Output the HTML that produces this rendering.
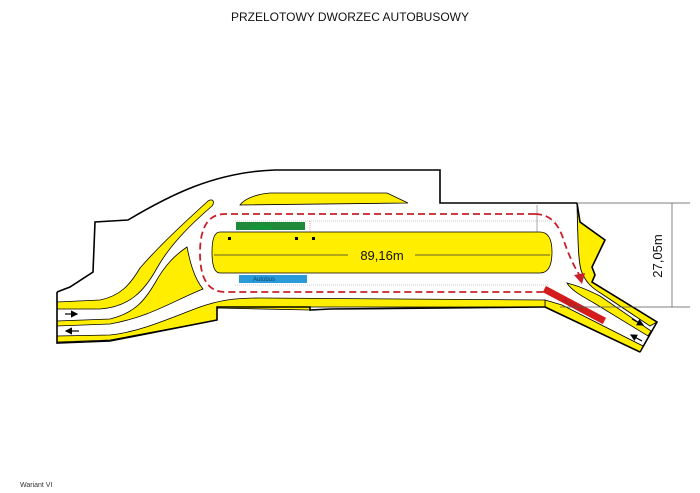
<!DOCTYPE html>
<html><head><meta charset="utf-8"><style>
body{margin:0;background:#fff;width:700px;height:493px;overflow:hidden}
svg{display:block;font-family:"Liberation Sans",sans-serif}
</style></head><body>
<svg width="700" height="493" viewBox="0 0 700 493">
<defs><marker id="ah" markerWidth="6" markerHeight="6" refX="5" refY="3" orient="auto"><path d="M0,0 L6,3 L0,6 Z" fill="#000"/></marker></defs>
<text x="350" y="21" text-anchor="middle" font-size="12" fill="#111">PRZELOTOWY DWORZEC AUTOBUSOWY</text>
<!-- outer boundary -->
<path d="M57,292 L70,287 L93,272 L95,222 L128,220 C170,195 215,172 275,170 L440,170 L440,203 L577,203 L545,307 Z" fill="#fff" stroke="none"/>
<path d="M57,292 L70,287 L93,272 L95,222 L128,220 C170,195 215,172 275,170 L440,170 L440,203 L577,203" fill="none" stroke="#000" stroke-width="1.6"/>
<!-- right jagged yellow -->
<path d="M577,203 L580,222 L605,240 L592,267 L595,275 L592,282 L657,322 L650,326 L602,294 C592,288 585,282 581,270 C578,258 578,240 577,203 Z" fill="#ffee00" stroke="#000" stroke-width="0.9"/>
<path d="M577,203 L580,222 L605,240 L592,267 L595,275 L592,282 L657,322 L640,352" fill="none" stroke="#000" stroke-width="1.6"/>
<!-- bottom diagonal yellow -->
<path d="M545,300 L562,305 L643,346 L640,352 L545,307 Z" fill="#ffee00" stroke="#000" stroke-width="0.9"/>
<!-- divider -->
<path d="M567,283 C575,285 588,290 600,296 L651,331 L648,336 L594,303 C582,296 572,291 567,283 Z" fill="#ffee00" stroke="#000" stroke-width="0.8"/>
<path d="M545,307 L640,352" fill="none" stroke="#000" stroke-width="1.6"/>
<!-- top left yellow sliver -->
<path d="M57,302 L100,300 C120,296 130,285 140,268 C160,245 185,222 208,201 C213,198 215,202 212,206 C190,225 170,245 157,268 C145,290 130,307 100,309 L57,309 Z" fill="#ffee00" stroke="#000" stroke-width="0.8"/>
<!-- middle yellow -->
<path d="M57,321 L110,319 C135,313 145,300 155,283 C165,265 175,255 187,247 C190,262 194,278 203,289 C175,300 150,317 110,324 L57,326 Z" fill="#ffee00" stroke="#000" stroke-width="0.8"/>
<!-- bottom strip -->
<path d="M57,336 L110,335 C140,332 170,318 200,307 C220,300 235,298 260,298 L545,300 L545,307 L310,307 L310,310 L217,308 L217,320 L110,340 L57,342 Z" fill="#ffee00" stroke="#000" stroke-width="0.8"/>
<path d="M57,292 L57,343 L110,341 L217,320 L217,307 L310,307 L310,310 L330,309 L545,307" fill="none" stroke="#000" stroke-width="1.6"/>
<!-- top yellow strip -->
<path d="M240,205 C245,198 258,194 270,193 L387,193 L408,203 Z" fill="#ffee00" stroke="#000" stroke-width="0.8"/>
<!-- island -->
<path d="M220,232 L540,232 Q552,232 552,252 Q552,273 540,273 L220,273 Q212,273 212,252 Q212,232 220,232 Z" fill="#ffee00" stroke="#000" stroke-width="0.8"/>
<line x1="214" y1="255" x2="348" y2="255" stroke="#333" stroke-width="0.8"/>
<line x1="415" y1="255" x2="550" y2="255" stroke="#333" stroke-width="0.8"/>
<text x="382" y="260" text-anchor="middle" font-size="13" fill="#111">89,16m</text>
<rect x="228" y="237" width="3" height="3" fill="#000"/>
<rect x="295" y="237" width="3" height="3" fill="#000"/>
<rect x="312" y="237" width="3" height="3" fill="#000"/>
<!-- dotted guides -->
<line x1="235" y1="221" x2="558" y2="221" stroke="#999" stroke-width="0.6" stroke-dasharray="1,1"/>
<line x1="235" y1="285" x2="548" y2="285" stroke="#999" stroke-width="0.6" stroke-dasharray="1,1"/>
<line x1="310" y1="221" x2="310" y2="232" stroke="#c44" stroke-width="0.5" stroke-dasharray="1,1"/>
<line x1="537" y1="205" x2="537" y2="232" stroke="#555" stroke-width="0.5"/>
<!-- buses -->
<rect x="236" y="222" width="69" height="8" fill="#1e8a3a"/>
<text x="250" y="229" font-size="6" fill="#0a3">Autobus</text>
<rect x="239" y="275" width="68" height="8" fill="#2a9ad8"/>
<text x="253" y="281" font-size="6" fill="#146">Autobus</text>
<g transform="translate(546,286) rotate(28)"><rect x="0" y="0" width="68" height="7" fill="#d41c1c"/><text x="22" y="6" font-size="6" fill="#922">Autobus</text></g>
<!-- dashed route -->
<path d="M535,214 L225,214 Q200,214 200,253 Q200,292 225,292 L545,292" fill="none" stroke="#c8202a" stroke-width="1.8" stroke-dasharray="7,4"/>
<path d="M535,214 Q555,214 563,238 Q570,260 580,276" fill="none" stroke="#c8202a" stroke-width="1.8" stroke-dasharray="7,4"/>
<path d="M574,275 L585,273 L582,284 Z" fill="#c8202a"/>
<!-- arrows -->
<line x1="65" y1="314" x2="77" y2="314" stroke="#000" stroke-width="1.2" marker-end="url(#ah)"/>
<line x1="79" y1="331" x2="66" y2="331" stroke="#000" stroke-width="1.2" marker-end="url(#ah)"/>
<line x1="632" y1="319" x2="643" y2="325" stroke="#000" stroke-width="1.2" marker-end="url(#ah)"/>
<line x1="642" y1="341" x2="631" y2="335" stroke="#000" stroke-width="1.2" marker-end="url(#ah)"/>
<!-- dimension -->
<line x1="577" y1="203" x2="690" y2="203" stroke="#555" stroke-width="0.7"/>
<line x1="560" y1="307" x2="690" y2="307" stroke="#555" stroke-width="0.7"/>
<line x1="672" y1="203" x2="672" y2="307" stroke="#555" stroke-width="0.7"/>
<text transform="translate(662,256) rotate(-90)" text-anchor="middle" font-size="13" fill="#111">27,05m</text>
<text x="20" y="487" font-size="7" fill="#333">Wariant VI</text>
</svg>
</body></html>
